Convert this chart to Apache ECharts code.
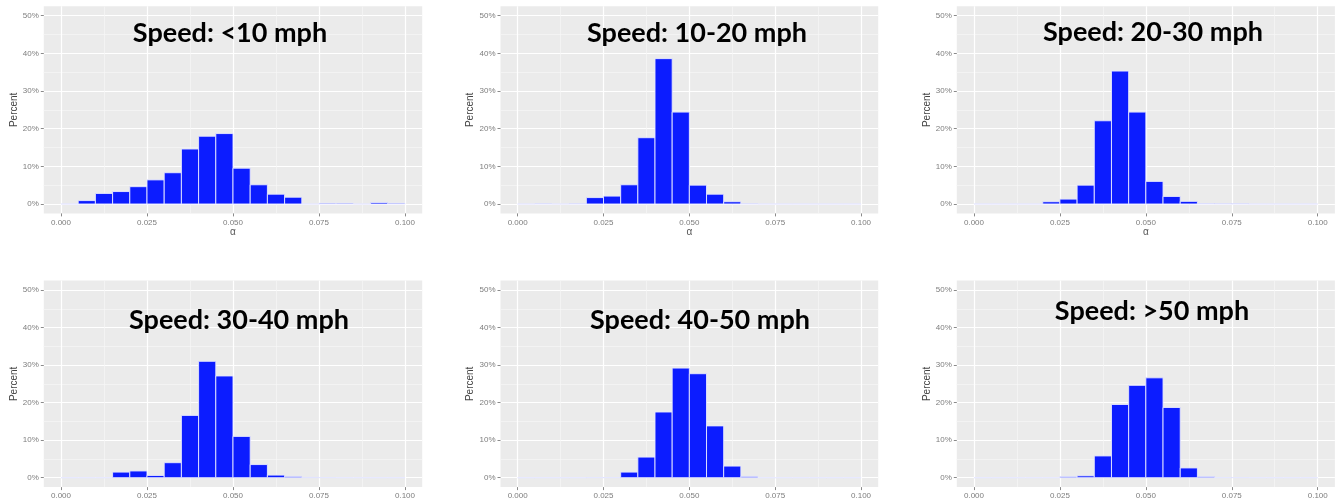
<!DOCTYPE html>
<html>
<head>
<meta charset="utf-8">
<script src="https://cdn.jsdelivr.net/npm/echarts@6/dist/echarts.min.js"></script>
<style>
html,body{margin:0;padding:0;background:#fff;}
#chart{width:1341px;height:503px;}
</style>
</head>
<body>
<div id="chart"></div>
<script>
// ---- data ----
const panelTitles = ['Speed: <10 mph', 'Speed: 10-20 mph', 'Speed: 20-30 mph',
                     'Speed: 30-40 mph', 'Speed: 40-50 mph', 'Speed: >50 mph'];
// histogram bin edges (alpha), 20 bins of width 0.005
const binEdges = [0.000, 0.005, 0.010, 0.015, 0.020, 0.025, 0.030, 0.035, 0.040, 0.045,
                  0.050, 0.055, 0.060, 0.065, 0.070, 0.075, 0.080, 0.085, 0.090, 0.095, 0.100];
// percent per bin
const pctLt10  = [0, 0.9, 2.8, 3.3, 4.6, 6.4, 8.3, 14.6, 18.0, 18.7, 9.5, 5.1, 2.6, 1.8, 0, 0.2, 0.2, 0, 0.4, 0.2];
const pct10_20 = [0, 0.05, 0, 0.05, 1.7, 2.1, 5.1, 17.6, 38.6, 24.4, 5.0, 2.6, 0.6, 0.05, 0, 0, 0, 0, 0, 0];
const pct20_30 = [0, 0, 0, 0, 0.6, 1.3, 5.0, 22.1, 35.3, 24.4, 6.0, 2.0, 0.7, 0.1, 0.05, 0.05, 0, 0, 0, 0];
const pct30_40 = [0, 0, 0, 1.5, 1.8, 0.6, 4.0, 16.6, 31.0, 27.1, 11.0, 3.5, 0.7, 0.35, 0.1, 0.05, 0, 0, 0, 0];
const pct40_50 = [0, 0, 0, 0, 0.05, 0.05, 1.5, 5.5, 17.5, 29.2, 27.7, 13.8, 3.1, 0.35, 0, 0, 0, 0, 0, 0];
const pctGt50  = [0, 0, 0, 0, 0, 0.3, 0.5, 5.8, 19.5, 24.6, 26.6, 18.7, 2.6, 0.3, 0.05, 0.05, 0, 0, 0, 0];
const panelValues = [pctLt10, pct10_20, pct20_30, pct30_40, pct40_50, pctGt50];

// tick labels
const xTicks = [0.000, 0.025, 0.050, 0.075, 0.100];
const xMinorTicks = [0.0125, 0.0375, 0.0625, 0.0875];
const yTicks = [0, 10, 20, 30, 40, 50];
const yMinorTicks = [5, 15, 25, 35, 45];
const xName = 'α';
const yName = 'Percent';

// ---- layout ----
const colLeft = [43.8, 500.5, 956.8];
const colWidth = [378.4, 377.7, 378.1];
const rowTop = [6.3, 280.6];
const rowHeight = [207.1, 206.5];
const titlePos = [[230, 33], [697, 33], [1153, 32], [239, 320], [700, 320], [1152, 311]];

const grids = [], xAxes = [], yAxes = [], series = [], graphics = [];
const labelColor = '#7d7d7d';
const tickColor = '#8a8a8a';

for (let i = 0; i < 6; i++) {
  const r = Math.floor(i / 3), c = i % 3;
  grids.push({
    left: colLeft[c], top: rowTop[r], width: colWidth[c], height: rowHeight[r],
    show: true, backgroundColor: '#EBEBEB', borderWidth: 0, containLabel: false,
    outerBoundsMode: 'none'
  });
  // major x axis
  xAxes.push({
    type: 'value', gridIndex: i, min: -0.005, max: 0.105, position: 'bottom',
    name: xName, nameLocation: 'middle', nameGap: 11,
    nameTextStyle: { color: '#555', fontSize: 10, fontFamily: 'Liberation Sans' },
    axisLine: { show: false, onZero: false },
    axisTick: { show: true, length: 3, lineStyle: { color: tickColor, width: 1 }, customValues: xTicks },
    axisLabel: { show: true, customValues: xTicks, margin: 5, color: labelColor, fontSize: 8,
                 fontFamily: 'Liberation Sans', formatter: v => v.toFixed(3) },
    splitLine: { show: true, lineStyle: { color: '#ffffff', width: 1.2 } }
  });
  // minor x axis (gridlines only)
  xAxes.push({
    type: 'value', gridIndex: i, min: -0.005, max: 0.105, position: 'top',
    axisLine: { show: false, onZero: false },
    axisTick: { show: false, customValues: xMinorTicks },
    axisLabel: { show: false, customValues: xMinorTicks },
    splitLine: { show: true, lineStyle: { color: '#f7f7f7', width: 0.7 } }
  });
  yAxes.push({
    type: 'value', gridIndex: i, min: -2.5, max: 52.5, position: 'left',
    name: yName, nameLocation: 'middle', nameGap: 21, nameRotate: 90,
    nameTextStyle: { color: '#444', fontSize: 10, fontFamily: 'Liberation Sans' },
    axisLine: { show: false, onZero: false },
    axisTick: { show: true, length: 3, lineStyle: { color: tickColor, width: 1 }, customValues: yTicks },
    axisLabel: { show: true, customValues: yTicks, margin: 5, color: labelColor, fontSize: 8,
                 fontFamily: 'Liberation Sans', formatter: v => v + '%' },
    splitLine: { show: true, lineStyle: { color: '#ffffff', width: 1.2 } }
  });
  yAxes.push({
    type: 'value', gridIndex: i, min: -2.5, max: 52.5, position: 'right',
    axisLine: { show: false, onZero: false },
    axisTick: { show: false, customValues: yMinorTicks },
    axisLabel: { show: false, customValues: yMinorTicks },
    splitLine: { show: true, lineStyle: { color: '#f7f7f7', width: 0.7 } }
  });
  const vals = panelValues[i];
  const data = vals.map((v, k) => [binEdges[k], binEdges[k + 1], v]);
  series.push({
    type: 'custom', xAxisIndex: i * 2, yAxisIndex: i * 2, data: data,
    encode: { x: [0, 1], y: 2 },
    renderItem: function (params, api) {
      const x0 = api.value(0), x1 = api.value(1), y = api.value(2);
      const pTop = api.coord([x0, y]);
      const pBot = api.coord([x1, 0]);
      return {
        type: 'rect',
        shape: { x: pTop[0], y: pTop[1], width: pBot[0] - pTop[0], height: pBot[1] - pTop[1] },
        style: { fill: '#0c1cff', stroke: '#e6e8ff', lineWidth: 0.9 }
      };
    },
    silent: true, animation: false, z: 3
  });
  graphics.push({
    type: 'text', x: titlePos[i][0], y: titlePos[i][1], z: 10,
    style: { text: panelTitles[i], fill: '#000', font: 'bold 27px Lato',
             textAlign: 'center', textVerticalAlign: 'middle' }
  });
}

const chart = echarts.init(document.getElementById('chart'), null, { renderer: 'canvas' });
chart.setOption({
  animation: false,
  backgroundColor: '#ffffff',
  grid: grids, xAxis: xAxes, yAxis: yAxes, series: series, graphic: graphics
});
</script>
</body>
</html>
